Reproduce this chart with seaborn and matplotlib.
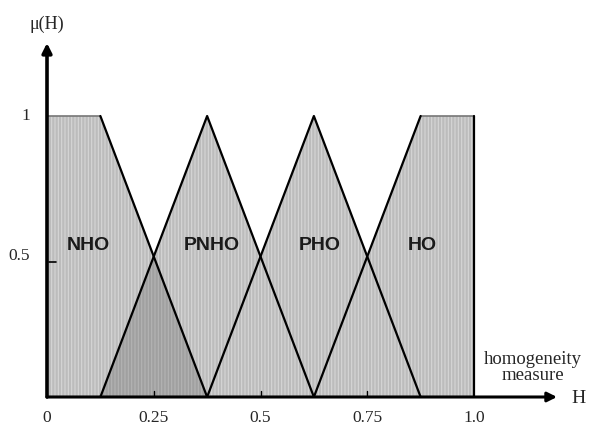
import numpy as np
import pandas as pd
import matplotlib
matplotlib.use("Agg")
import matplotlib.pyplot as plt
import seaborn as sns

# membership function definitions (breakpoints)
sets = ["NHO", "PNHO", "PHO", "HO"]
nho_x = [0.0, 0.125, 0.375]
nho_y = [1.0, 1.0, 0.0]
pnho_x = [0.125, 0.375, 0.625]
pnho_y = [0.0, 1.0, 0.0]
pho_x = [0.375, 0.625, 0.875]
pho_y = [0.0, 1.0, 0.0]
ho_x = [0.625, 0.875, 1.0, 1.0]
ho_y = [0.0, 1.0, 1.0, 0.0]
label_x = [0.096, 0.386, 0.639, 0.878]
label_y = 0.54
xtick_vals = [0, 0.25, 0.5, 0.75, 1.0]
xtick_labels = ["0", "0.25", "0.5", "0.75", "1.0"]
ytick_vals = [0.5, 1.0]
ytick_labels = ["0.5", "1"]

sns.set_theme(style="white")
plt.rcParams["font.family"] = ["Liberation Serif", "DejaVu Serif"]
plt.rcParams["hatch.linewidth"] = 0.8

fig = plt.figure(figsize=(5.91, 4.29), dpi=100)
W, H = 591, 429
x0px, y0px = 47, 397
xscale = 427.0
yscale = 281.0
xmax = (557 - x0px) / xscale
ymax = (y0px - 43) / yscale
ax = fig.add_axes([x0px / W, (H - y0px) / H, (557 - x0px) / W, (y0px - 43) / H])
ax.set_xlim(0, xmax)
ax.set_ylim(0, ymax)
for s in ax.spines.values():
    s.set_visible(False)
ax.set_xticks([])
ax.set_yticks([])

fill_col = "#bcbcbc"
dark_col = "#a0a0a0"
defs = [(nho_x, nho_y), (pnho_x, pnho_y), (pho_x, pho_y), (ho_x, ho_y)]
grid = np.linspace(0, 1.0, 2001)
vals = [
    np.interp(grid, nho_x, nho_y, left=1, right=0),
    np.interp(grid, pnho_x, pnho_y, left=0, right=0),
    np.interp(grid, pho_x, pho_y, left=0, right=0),
    np.interp(grid, ho_x[:3], ho_y[:3], left=0, right=1),
]
union = np.max(vals, axis=0)
ax.fill_between(grid, 0, union, color=fill_col, lw=0, hatch="|||||", edgecolor="#d6d6d6")
inter = np.minimum(vals[0], vals[1])
ax.fill_between(grid, 0, inter, color=dark_col, lw=0, hatch="|||||", edgecolor="#b4b4b4")

# outlines
frames = []
for name, (xs, ys) in zip(sets, defs):
    frames.append(pd.DataFrame({"H": xs, "mu": ys, "set": name}))
df = pd.concat(frames)
for name in sets:
    sub = df[df["set"] == name]
    hx, hy = sub["H"].values, sub["mu"].values
    if name == "NHO":
        ax.plot(hx[:2], hy[:2], color="#777777", lw=1.2)
        sns.lineplot(x=hx[1:], y=hy[1:], sort=False, ax=ax, color="black", lw=1.6, estimator=None)
    elif name == "HO":
        ax.plot(hx[1:3], hy[1:3], color="#777777", lw=1.2)
        sns.lineplot(x=hx[:2], y=hy[:2], sort=False, ax=ax, color="black", lw=1.6, estimator=None)
        sns.lineplot(x=hx[2:], y=hy[2:], sort=False, ax=ax, color="black", lw=1.6, estimator=None)
    else:
        sns.lineplot(x=hx, y=hy, sort=False, ax=ax, color="black", lw=1.6, estimator=None)

# axes arrows
ax.annotate("", xy=(xmax, 0), xytext=(0, 0),
            arrowprops=dict(arrowstyle="-|>", color="black", lw=2.2, mutation_scale=14,
                            shrinkA=0, shrinkB=0), annotation_clip=False)
ax.annotate("", xy=(0, ymax), xytext=(0, 0),
            arrowprops=dict(arrowstyle="-|>", color="black", lw=2.6, mutation_scale=14,
                            shrinkA=0, shrinkB=0), annotation_clip=False)

# ticks
for v, lab in zip(xtick_vals, xtick_labels):
    if 0 < v < 1:
        ax.plot([v, v], [0, 0.02], color="black", lw=1)
    ax.text(v, -0.045, lab, ha="center", va="top", fontsize=12.5)
for v, lab in zip(ytick_vals, ytick_labels):
    if v == 0.5:
        ax.plot([0.005, 0.022], [v - 0.02, v - 0.02], color="black", lw=1.2)
    ax.text(-0.04, v, lab, ha="right", va="center", fontsize=12.5)

ax.text(0.0, ymax + 0.065, "μ(H)", ha="center", va="center", fontsize=13, clip_on=False)
ax.text(xmax + 0.05, -0.005, "H", ha="center", va="center", fontsize=14, clip_on=False)
ax.text(1.138, 0.105, "homogeneity\nmeasure", ha="center", va="center", fontsize=13.5,
        linespacing=0.9)

for name, lx in zip(sets, label_x):
    ax.text(lx, label_y, name, ha="center", va="center", fontsize=14, fontweight="bold",
            family=["Liberation Sans", "DejaVu Sans"], color="#1a1a1a")

fig.savefig("out.png", dpi=100)
